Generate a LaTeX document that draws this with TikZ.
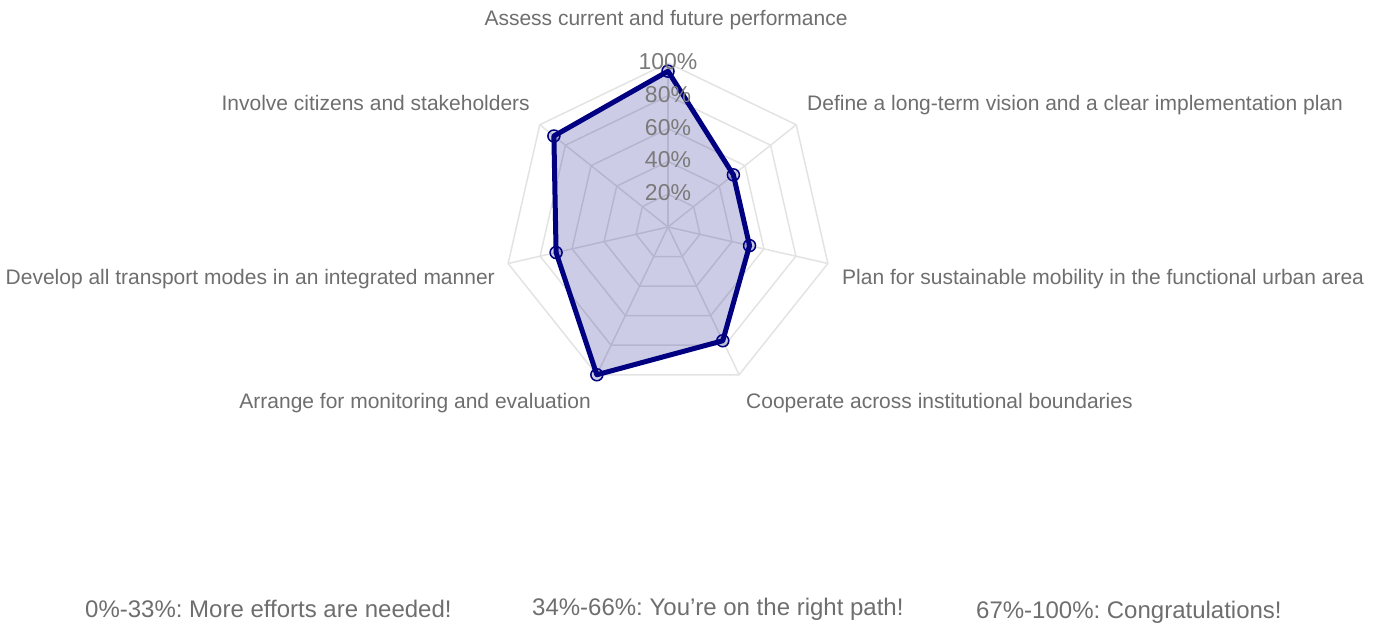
\documentclass[tikz,border=0pt]{standalone}
\usepackage{fontspec}
\setmainfont{Liberation Sans}
\usetikzlibrary{calc}
\frenchspacing
\definecolor{labelgray}{HTML}{6E6E6E}
\definecolor{tickgray}{HTML}{7A7A7A}
\definecolor{gridgray}{HTML}{E3E3E3}
\definecolor{series}{HTML}{000080}
\begin{document}
\begin{tikzpicture}[x=1pt,y=1pt,
  axislabel/.style={text=labelgray,font=\fontsize{21}{21}\selectfont,inner sep=0pt},
  ticklabel/.style={text=tickgray,font=\fontsize{23}{23}\selectfont,inner sep=0pt,anchor=base},
  legendtext/.style={text=labelgray,font=\fontsize{24}{24}\selectfont\frenchspacing,inner sep=0pt,anchor=base west},
  gridline/.style={draw=gridgray,line width=1.5pt},
  seriesline/.style={draw=series,line width=5pt,line join=round,fill=series,fill opacity=0.2},
  marker/.style={circle,draw=series,line width=1.5pt,minimum size=12pt,inner sep=0pt,fill=series,fill opacity=0.2}]
\useasboundingbox (0,0) rectangle (1387,627);
\coordinate (c) at (668,400);
\def\R{164}
% grid rings
\foreach \k in {1,...,5}{
  \draw[gridline] ($(c)+(90:\k*\R/5)$)
    \foreach \i in {1,...,6}{ -- ($(c)+({90-\i*360/7}:\k*\R/5)$)} -- cycle;
}
% spokes
\foreach \i in {0,...,6}{
  \draw[gridline] (c) -- ($(c)+({90-\i*360/7}:\R)$);
}
% data points
\coordinate (p0) at ($(c)+(90:0.95*\R)$);
\coordinate (p1) at ($(c)+({90-1*360/7}:0.51*\R)$);
\coordinate (p2) at ($(c)+({90-2*360/7}:0.51*\R)$);
\coordinate (p3) at ($(c)+({90-3*360/7}:0.77*\R)$);
\coordinate (p4) at ($(c)+({90-4*360/7}:1.0*\R)$);
\coordinate (p5) at ($(c)+({90-5*360/7}:0.70*\R)$);
\coordinate (p6) at ($(c)+({90-6*360/7}:0.89*\R)$);
\draw[seriesline] (p0) -- (p1) -- (p2) -- (p3) -- (p4) -- (p5) -- (p6) -- cycle;
\foreach \i in {0,...,6}{
  \node[marker] (m\i) at (p\i) {};
}
% tick labels
\node[ticklabel] (t20) at ($(c)+(0,1*\R/5-6.5)$) {20\%};
\node[ticklabel] (t40) at ($(c)+(0,2*\R/5-6.5)$) {40\%};
\node[ticklabel] (t60) at ($(c)+(0,3*\R/5-6.5)$) {60\%};
\node[ticklabel] (t80) at ($(c)+(0,4*\R/5-6.5)$) {80\%};
\node[ticklabel] (t100) at ($(c)+(0,5*\R/5-6.5)$) {100\%};
% axis labels
\node[axislabel,anchor=base] (l0) at (666,601) {Assess current and future performance};
\node[axislabel,anchor=base west] (l1) at (807,516) {Define a long-term vision and a clear implementation plan};
\node[axislabel,anchor=base west] (l2) at (842,342) {Plan for sustainable mobility in the functional urban area};
\node[axislabel,anchor=base west] (l3) at (746,218) {Cooperate across institutional boundaries};
\node[axislabel,anchor=base east] (l4) at (591,218) {Arrange for monitoring and evaluation};
\node[axislabel,anchor=base east] (l5) at (495,342) {Develop all transport modes in an integrated manner};
\node[axislabel,anchor=base east] (l6) at (530,516) {Involve citizens and stakeholders};
% legend texts
\node[legendtext] (g1) at (85,10) {0\%-33\%: More efforts are needed!};
\node[legendtext] (g2) at (532,12) {34\%-66\%: You’re on the right path!};
\node[legendtext] (g3) at (976,9) {67\%-100\%: Congratulations!};
\end{tikzpicture}
\end{document}
